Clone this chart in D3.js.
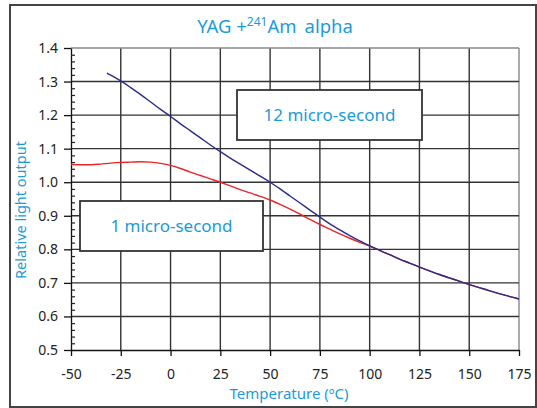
<!DOCTYPE html>
<html>
<head>
<meta charset="utf-8">
<script src="https://cdn.jsdelivr.net/npm/d3@7"></script>
<style>
  body { margin: 0; background: #fff; }
  svg text { font-family: "Noto Sans", "Open Sans", sans-serif; }
</style>
</head>
<body>
<svg id="chart" width="537" height="408"></svg>
<script>
// temperatures in degrees C and relative light output
var tempsLong = [-32, -25, -20, -15, -10, -5, 0, 5, 10, 15, 20, 25, 30, 35, 40, 45, 50, 55, 60, 65, 70, 75,
  80, 85, 90, 95, 100, 105, 110, 115, 120, 125, 130, 135, 140, 145, 150, 155, 160, 165, 170, 175];
var output12us = [1.325, 1.302, 1.282, 1.261, 1.239, 1.217, 1.196, 1.174, 1.153, 1.132, 1.111, 1.091, 1.072,
  1.054, 1.036, 1.018, 1.000, 0.980, 0.959, 0.938, 0.917, 0.896, 0.876, 0.858, 0.841, 0.825, 0.810, 0.797,
  0.784, 0.771, 0.759, 0.747, 0.736, 0.725, 0.715, 0.705, 0.695, 0.686, 0.677, 0.668, 0.660, 0.652];

var tempsShort = [-50, -45, -40, -35, -30, -25, -20, -15, -10, -5, 0, 5, 10, 15, 20, 25, 30, 35, 40, 45, 50,
  55, 60, 65, 70, 75, 80, 85, 90, 95, 100, 105, 110, 115, 120, 125, 130, 135, 140, 145, 150, 155, 160, 165, 170, 175];
var output1us = [1.053, 1.052, 1.052, 1.054, 1.057, 1.059, 1.060, 1.061, 1.060, 1.056, 1.050, 1.041, 1.030,
  1.020, 1.010, 1.000, 0.989, 0.978, 0.968, 0.958, 0.947, 0.934, 0.920, 0.905, 0.889, 0.874, 0.860, 0.846,
  0.833, 0.821, 0.810, 0.797, 0.784, 0.771, 0.759, 0.747, 0.736, 0.725, 0.715, 0.705, 0.695, 0.686, 0.677,
  0.668, 0.660, 0.652];

var xTicks = [-50, -25, 0, 25, 50, 75, 100, 125, 150, 175];
var yTicks = [0.5, 0.6, 0.7, 0.8, 0.9, 1.0, 1.1, 1.2, 1.3, 1.4];
var yMinor = d3.range(50, 141, 2).filter(function(v) { return v % 10 != 0; }).map(function(v) { return v / 100; });

var blue = '#2b2b8c', red = '#ea2428', cyan = '#1b9bd7';
var svg = d3.select('#chart');
var plotL = 71, plotR = 519, plotT = 48, plotB = 350;

var x = d3.scaleLinear().domain([-50, 175]).range([plotL, plotR]);
var y = d3.scaleLinear().domain([0.5, 1.4]).range([plotB, plotT]);

// outer frame
svg.append('rect').attr('x', 10).attr('y', 5).attr('width', 526).attr('height', 402)
  .attr('fill', 'none').attr('stroke', '#444').attr('stroke-width', 2);

// grid
var grid = svg.append('g');
grid.selectAll('line.v').data(xTicks.slice(1)).enter().append('line')
  .attr('x1', function(d) { return x(d); }).attr('x2', function(d) { return x(d); })
  .attr('y1', plotT).attr('y2', plotB)
  .attr('stroke', function(d) { return d == 175 ? '#888' : '#333'; }).attr('stroke-width', 1.4);
grid.selectAll('line.h').data(yTicks.slice(1)).enter().append('line')
  .attr('x1', plotL).attr('x2', plotR)
  .attr('y1', function(d) { return y(d); }).attr('y2', function(d) { return y(d); })
  .attr('stroke', function(d) { return d == 1.4 ? '#888' : '#333'; }).attr('stroke-width', 1.4);

// axes
var xAxis = svg.append('g').attr('transform', 'translate(0,' + plotB + ')')
  .call(d3.axisBottom(x).tickValues(xTicks).tickSize(6).tickSizeOuter(0).tickPadding(13)
    .tickFormat(function(d) { return String(d); }));
var yAxis = svg.append('g').attr('transform', 'translate(' + plotL + ',0)')
  .call(d3.axisLeft(y).tickValues(yTicks).tickSize(7).tickSizeOuter(0).tickPadding(6).tickFormat(d3.format('.1f')));
var minor = svg.append('g').attr('transform', 'translate(' + plotL + ',0)')
  .call(d3.axisRight(y).tickValues(yMinor).tickSize(4).tickSizeOuter(0).tickFormat(''));
minor.select('.domain').remove();
minor.selectAll('line').attr('stroke', '#222').attr('stroke-width', 1.2);
[xAxis, yAxis].forEach(function(a) {
  a.selectAll('path, line').attr('stroke', '#111').attr('stroke-width', 1.3);
  a.selectAll('text').attr('fill', '#222').style('font-size', '14px');
});

// curves
var line = d3.line().x(function(d) { return x(d[0]); }).y(function(d) { return y(d[1]); }).curve(d3.curveMonotoneX);
svg.append('path').datum(d3.zip(tempsShort, output1us)).attr('d', line)
  .attr('fill', 'none').attr('stroke', red).attr('stroke-width', 1.4);
svg.append('path').datum(d3.zip(tempsLong, output12us)).attr('d', line)
  .attr('fill', 'none').attr('stroke', blue).attr('stroke-width', 1.4);

// labels in boxes
function box(x0, y0, w, h, label) {
  svg.append('rect').attr('x', x0).attr('y', y0).attr('width', w).attr('height', h)
    .attr('fill', '#fff').attr('stroke', '#333').attr('stroke-width', 1.8);
  svg.append('text').attr('x', x0 + w / 2).attr('y', y0 + h / 2 + 6).attr('text-anchor', 'middle')
    .attr('fill', cyan).style('font-size', '17px').text(label);
}
box(237, 90, 185, 50, '12 micro-second');
box(80, 201, 183, 50, '1 micro-second');

// title
var title = svg.append('text').attr('x', 275).attr('y', 33).attr('text-anchor', 'middle')
  .attr('fill', cyan).style('font-size', '18.5px');
title.append('tspan').text('YAG +');
title.append('tspan').attr('dy', -7).style('font-size', '12px').text('241');
title.append('tspan').attr('dy', 7).text('Am');
title.append('tspan').attr('dx', 8).text('alpha');

// axis titles
svg.append('text').attr('x', 289).attr('y', 399).attr('text-anchor', 'middle')
  .attr('fill', cyan).style('font-size', '15px').text('Temperature (ºC)');
svg.append('text').attr('transform', 'translate(26,210) rotate(-90)').attr('text-anchor', 'middle')
  .attr('fill', cyan).style('font-size', '14.5px').text('Relative light output');
</script>
</body>
</html>
